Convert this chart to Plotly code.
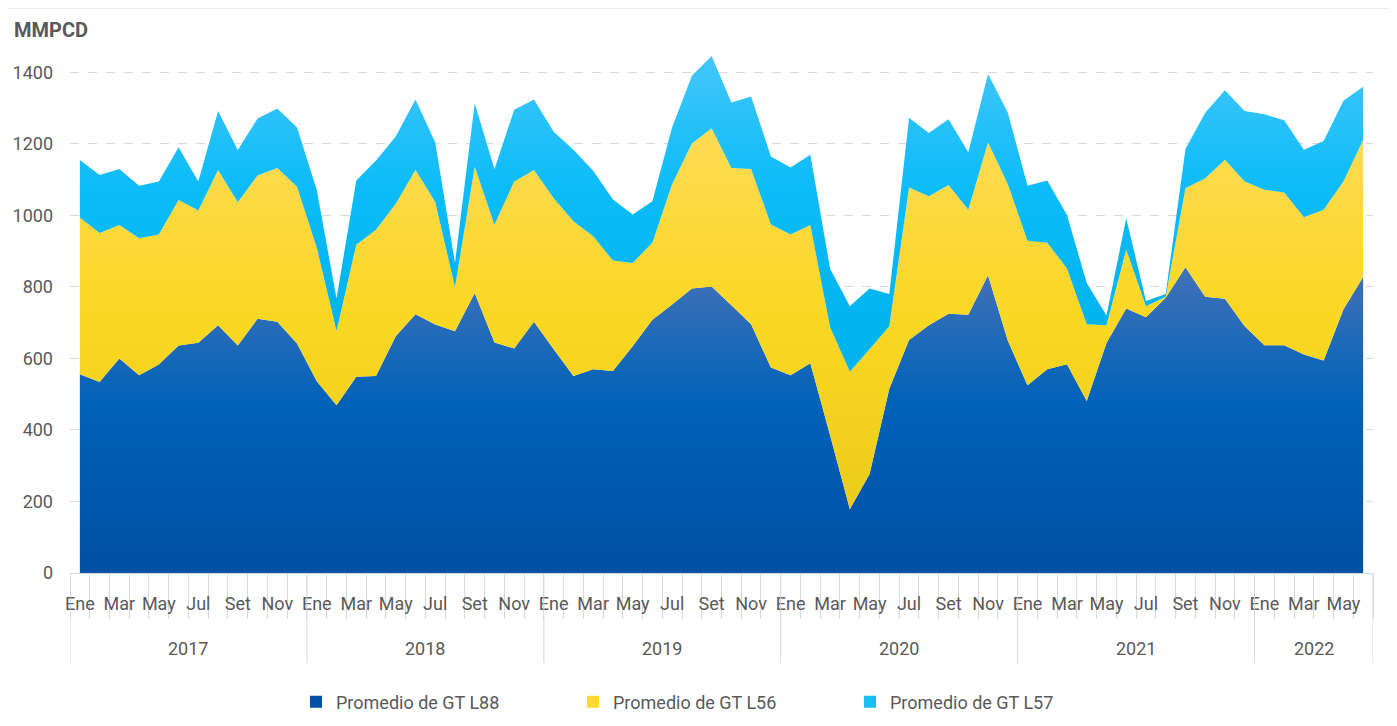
import plotly.graph_objects as go

years = ["2017", "2018", "2019", "2020", "2021", "2022"]
month_names = ["Ene", "Feb", "Mar", "Abr", "May", "Jun", "Jul", "Ago", "Set", "Oct", "Nov", "Dic"]
months_per_year = [12, 12, 12, 12, 12, 6]

gt_l88 = [556, 534, 600, 553, 583, 636, 644, 693, 636, 711, 703, 642,
          536, 469, 549, 551, 662, 724, 695, 676, 783, 645, 628, 703,
          626, 551, 570, 565, 634, 708, 751, 796, 801, 749, 696, 575,
          553, 587, 385, 178, 277, 515, 652, 693, 725, 722, 833, 650,
          525, 570, 584, 481, 643, 740, 715, 770, 855, 773, 767, 690,
          637, 637, 611, 594, 737, 828]
gt_l56 = [438, 417, 373, 383, 364, 407, 370, 434, 401, 401, 430, 438,
          374, 208, 369, 409, 371, 403, 343, 123, 353, 329, 467, 424,
          422, 433, 372, 309, 233, 216, 337, 405, 443, 384, 434, 400,
          394, 386, 303, 385, 349, 175, 426, 361, 360, 294, 371, 438,
          404, 354, 268, 215, 50, 165, 31, 3, 221, 331, 389, 405,
          435, 427, 384, 422, 358, 383]
gt_l57 = [161, 162, 157, 147, 148, 148, 81, 165, 146, 159, 166, 166,
          161, 91, 180, 194, 188, 197, 166, 68, 178, 155, 201, 197,
          186, 200, 183, 171, 136, 116, 159, 190, 202, 183, 203, 190,
          187, 197, 163, 183, 170, 90, 195, 177, 184, 161, 192, 200,
          154, 174, 149, 115, 27, 87, 15, 7, 110, 183, 194, 197,
          211, 202, 189, 192, 226, 149]

series_names = ["Promedio de GT L88", "Promedio de GT L56", "Promedio de GT L57"]
y_ticks = [0, 200, 400, 600, 800, 1000, 1200, 1400]

# build category positions
labels = []
year_of = []
for y, n in zip(years, months_per_year):
    for m in range(n):
        labels.append(month_names[m])
        year_of.append(y)
x = list(range(len(labels)))

FONT = "Roboto, 'Liberation Sans', Arial, sans-serif"
GRAY = "#595959"
LIGHT = "#D9D9D9"

# page offset (browser body margin) compensation
OFF = 8
W, H = 1397 - OFF, 726 - OFF
ml, mr, mt, mb = 70 - OFF, 24, 43, 153
pw, ph = W - ml - mr, H - mt - mb


def px(sx):
    return (sx - OFF - ml) / pw


def py(sy):
    return (H - mb - (sy - OFF)) / ph


fills = [
    dict(fc="#0055A8", lg="#0050A6", start=0, stop=860,
         cs=[[0, "#0050A3"], [0.55, "#0062B8"], [1, "#4472B8"]]),
    dict(fc="#FDD92B", lg="#FFD92B", start=170, stop=1250,
         cs=[[0, "#EBCB1B"], [0.5, "#FAD722"], [1, "#FEDB55"]]),
    dict(fc="#19BEF5", lg="#19BEF5", start=700, stop=1450,
         cs=[[0, "#00B4EE"], [0.5, "#0BBCF8"], [1, "#45C6FA"]]),
]

fig = go.Figure()
for vals, name, f in zip([gt_l88, gt_l56, gt_l57], series_names, fills):
    fig.add_trace(go.Scatter(
        x=x, y=vals, name=name, mode="none", stackgroup="one", showlegend=False,
        fillcolor=f["fc"],
        fillgradient=dict(type="vertical", start=f["start"], stop=f["stop"], colorscale=f["cs"]),
    ))
for name, f in zip(series_names, fills):
    fig.add_trace(go.Scatter(
        x=[None], y=[None], name=name, mode="markers",
        marker=dict(symbol="square", size=12, color=f["lg"]),
    ))

# year labels and dividers
shapes = []
annotations = []
start = 0
bounds = [-0.5]
for y, n in zip(years, months_per_year):
    mid = start + (n - 1) / 2
    annotations.append(dict(x=mid, y=py(648), xref="x", yref="paper", text=y,
                            showarrow=False, yanchor="middle",
                            font=dict(family=FONT, size=18, color=GRAY)))
    start += n
    bounds.append(start - 0.5)
for b in bounds:
    shapes.append(dict(type="line", xref="x", yref="paper", x0=b, x1=b, y0=0, y1=py(663),
                       line=dict(color=LIGHT, width=1)))

# outer frame (right and top edges visible on the page)
shapes.append(dict(type="line", xref="paper", yref="paper",
                   x0=px(1392), x1=px(1392), y0=py(726), y1=py(8),
                   line=dict(color="#E3E3E3", width=1)))
shapes.append(dict(type="line", xref="paper", yref="paper",
                   x0=px(8), x1=px(1392), y0=py(8.5), y1=py(8.5),
                   line=dict(color="#EDEDED", width=1)))

annotations.append(dict(x=px(12), y=py(30), xref="paper", yref="paper", text="<b>MMPCD</b>",
                        showarrow=False, xanchor="left", yanchor="middle",
                        font=dict(family=FONT, size=20, color=GRAY)))

fig.update_layout(
    width=W, height=H,
    margin=dict(l=ml, r=mr, t=mt, b=mb),
    paper_bgcolor="white", plot_bgcolor="white",
    font=dict(family=FONT, size=18, color=GRAY),
    showlegend=True,
    legend=dict(orientation="h", xref="container", yref="container",
                x=(296 - OFF) / W, xanchor="left",
                y=(H - (702 - OFF)) / H, yanchor="middle",
                entrywidth=232, entrywidthmode="pixels", traceorder="normal",
                itemwidth=30,
                font=dict(family=FONT, size=18, color=GRAY)),
    shapes=shapes,
    annotations=annotations,
    xaxis=dict(
        type="linear", range=[-0.5, len(x) - 0.5], automargin=False,
        tickmode="array",
        tickvals=[i for i in x if i % 2 == 0],
        ticktext=[labels[i] for i in x if i % 2 == 0],
        ticks="", showgrid=False, zeroline=False,
        showline=True, linecolor=LIGHT, linewidth=1,
        ticklabelstandoff=14,
        tickfont=dict(family=FONT, size=18, color=GRAY),
        minor=dict(tickmode="linear", tick0=0.5, dtick=1, ticks="outside",
                   ticklen=45, tickcolor=LIGHT, tickwidth=1, showgrid=False),
    ),
    yaxis=dict(
        range=[0, 1460], tickmode="array", tickvals=y_ticks, automargin=False,
        showgrid=True, gridcolor=LIGHT, griddash="dash", gridwidth=1,
        zeroline=False, showline=False, ticks="",
        ticklabelstandoff=16,
        tickfont=dict(family=FONT, size=18, color=GRAY),
    ),
)

fig.write_html("out.html")
